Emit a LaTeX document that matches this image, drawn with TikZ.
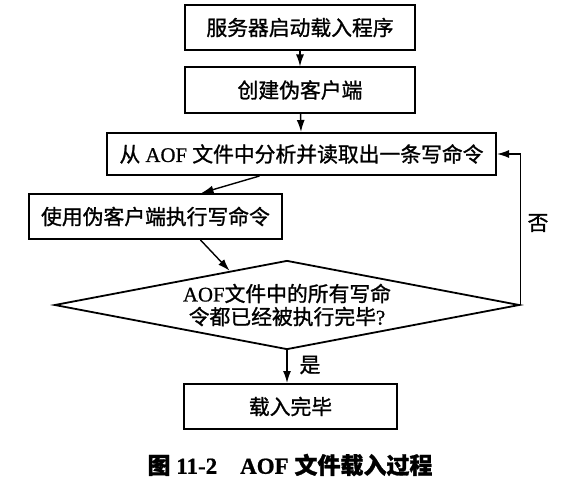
\documentclass[tikz,border=0pt]{standalone}
\usepackage{fontspec}
\setmainfont[FakeBold=0.8]{Liberation Serif}
\newfontfamily\cjk[FakeBold=1.2]{Noto Sans CJK SC}
\usepackage{tikz}
\usetikzlibrary{calc, shapes.geometric}
\usetikzlibrary{arrows.meta}
\tikzset{>={Latex[width=4pt,length=6pt]}}
\tikzset{
  stepbox/.style={draw=black, line width=1pt, inner sep=0pt,
    minimum height=22.5pt, font=\fontsize{10.4}{12}\selectfont},
  checkbox/.style={draw=black, line width=0.9pt, shape=diamond, aspect=5.2,
    inner sep=0pt, align=center, font=\fontsize{10.4}{11.5}\selectfont},
  flowlabel/.style={font=\fontsize{10.4}{12}\selectfont\cjk},
}

\begin{document}
\begin{tikzpicture}[x=0.5pt, y=-0.5pt, line width=0.7pt]
    \useasboundingbox (0,0) rectangle (588,476);

    \node[stepbox, minimum width=115pt] (start) at (300,27.5) {\cjk 服务器启动载入程序};
    \node[stepbox, minimum width=115pt] (client) at (300,90) {\cjk 创建伪客户端};
    \node[stepbox, minimum width=194.5pt, minimum height=21pt] (read) at (301.5,154) {{\cjk 从} AOF {\cjk 文件中分析并读取出一条写命令}};
    \node[stepbox, minimum width=126.5pt] (exec) at (155.5,216.5) {\cjk 使用伪客户端执行写命令};
    \node[checkbox, minimum width=232.5pt, minimum height=44.5pt] (check) at (287,305) {AOF{\cjk 文件中的所有写命}\\{\cjk 令都已经被执行完毕}?};
    \node[stepbox, minimum width=106.5pt] (done) at (290.5,406.5) {\cjk 载入完毕};

    \node[flowlabel] (no) at (538,223) {否};
    \node[flowlabel] (yes) at (310,365) {是};

    \node[font=\fontsize{11.5}{13}\selectfont\bfseries] (caption) at (290,465) {{\cjk 图} 11-2\quad AOF {\cjk 文件载入过程}};

    \draw[->] (start) -- (client);
    \draw[->] (client) -- (read);
    \draw[->] ($(read.south)+(-42,0)$) -- ($(exec.north)+(46,0)$);
    \draw[->] ($(exec.south)+(45,0)$) -- ($(check.west)!0.754!(check.north)$);
    \draw[->] (check.south) -- (check.south |- done.north);
    \draw[->] (check.east) |- (read.east);

\end{tikzpicture}
\end{document}
